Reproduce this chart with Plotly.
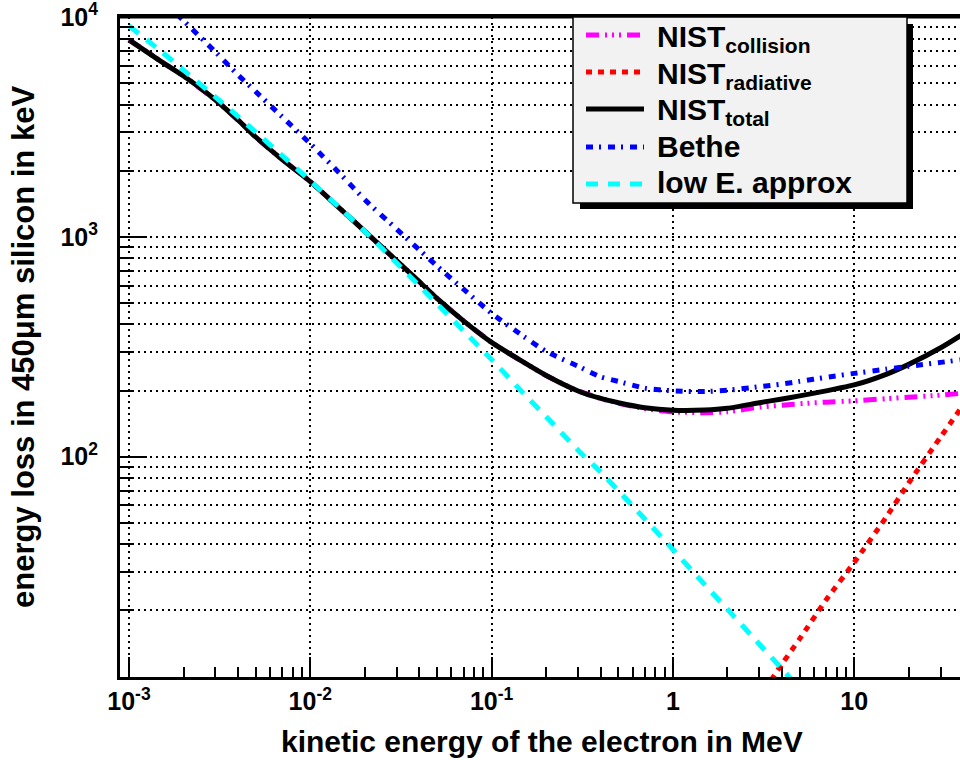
import plotly.graph_objects as go

# ---------------- data ----------------
energy_mev = [0.001, 0.0015, 0.002, 0.003, 0.004, 0.005, 0.007,
              0.01, 0.015, 0.02, 0.03, 0.04, 0.05, 0.07,
              0.1, 0.15, 0.2, 0.3, 0.4, 0.5, 0.7,
              1, 1.5, 2, 3, 4, 5, 7,
              10, 15, 20, 30, 40]
nist_total = [7890, 6300, 5400, 4200, 3400, 2850, 2250,
              1785, 1317, 1061, 778, 625, 525, 415,
              331, 269, 234, 199, 184, 176, 167,
              162.7, 163, 166, 176, 183, 189, 199.3,
              212, 237, 263, 313, 362]
nist_collision = [7890, 6300, 5400, 4200, 3400, 2850, 2250,
                  1785, 1317, 1061, 778, 625, 525, 415,
                  331, 269, 234, 199, 184, 175, 165.5,
                  160, 158.5, 160, 168, 171.5, 174, 177,
                  179.4, 183.5, 186.5, 190.5, 194.5]

energy_rad = [1, 1.5, 2, 3, 4, 5, 7, 10, 15, 20, 30, 40]
nist_radiative = [2.3, 3.6, 5.0, 8.0, 11.4, 14.8, 22.3, 33, 53, 76, 123, 172]

energy_bethe = [0.0015, 0.002, 0.003, 0.004, 0.005, 0.007,
                0.01, 0.015, 0.02, 0.03, 0.04, 0.05, 0.07,
                0.1, 0.15, 0.2, 0.3, 0.4, 0.5, 0.7,
                1, 1.5, 2, 3, 4, 5, 7,
                10, 15, 20, 30, 40]
bethe = [12140, 9640, 6945, 5453, 4586, 3520,
         2655, 1894, 1476, 1084, 872, 737, 578,
         449, 352.7, 301, 258, 230.7, 220, 205,
         199.3, 197.7, 200.5, 208, 214, 220, 229.6,
         239.3, 250, 257.6, 268.5, 276.7]

energy_lowe = [0.001, 0.0015, 0.002, 0.003, 0.004, 0.005, 0.007,
               0.01, 0.015, 0.02, 0.03, 0.04, 0.05, 0.07,
               0.1, 0.15, 0.2, 0.3, 0.4, 0.5, 0.7,
               1, 1.5, 2, 3, 4, 5]
low_e_approx = [9140, 7000, 5740, 4325, 3525, 3000, 2345,
                1800, 1322, 1059, 760, 598, 497, 374,
                277, 194, 152, 107, 85, 70, 52,
                37.8, 26.1, 20.2, 14.0, 10.8, 8.8]

x_tickvals = [0.001, 0.01, 0.1, 1, 10]
x_ticktext = ["10<sup>-3</sup>", "10<sup>-2</sup>", "10<sup>-1</sup>", "1", "10"]
y_tickvals = [100, 1000, 10000]
y_ticktext = ["10<sup>2</sup>", "10<sup>3</sup>", "10<sup>4</sup>"]
x_minor = [m * d for d in (0.001, 0.01, 0.1, 1) for m in range(2, 10)] + [20, 30, 40]
y_minor = [m * d for d in (10, 100, 1000) for m in range(2, 10)]

legend_labels = ["NIST<sub>collision</sub>", "NIST<sub>radiative</sub>", "NIST<sub>total</sub>",
                 "Bethe", "low E. approx"]

# ---------------- styles ----------------
FONT = "Liberation Sans, Arial, sans-serif"
styles = [
    dict(color="#ff00ff", dash="13px,6px,2px,5px,2px,5px,2px,6px", width=5),
    dict(color="#ff0000", dash="6px,6px", width=5),
    dict(color="#000000", dash="solid", width=5),
    dict(color="#0000ff", dash="7px,6px,2px,7px", width=5),
    dict(color="#00ffff", dash="12px,10px", width=5),
]

fig = go.Figure()
series = [(energy_mev, nist_collision), (energy_rad, nist_radiative), (energy_mev, nist_total),
          (energy_bethe, bethe), (energy_lowe, low_e_approx)]
for (xs, ys), st, name in zip(series, styles, legend_labels):
    fig.add_trace(go.Scatter(x=xs, y=ys, mode="lines", name=name, showlegend=False,
                             line=dict(color=st["color"], dash=st["dash"], width=st["width"],
                                       shape="spline", smoothing=0.6)))

# plot area in pixels: x 120..960, y 17..677
L, R, T, B = 120, 960, 17, 677
W, H = R - L, B - T


def px(x):
    return (x - L) / W


def py(y):
    return (B - y) / H


grid = dict(gridcolor="black", griddash="2px,4px", gridwidth=1.5)

fig.update_xaxes(type="log", range=[-3.0496, 1.5836], automargin=False,
                 tickmode="array", tickvals=x_tickvals, ticktext=x_ticktext,
                 ticks="inside", ticklen=20, tickwidth=2, tickcolor="black",
                 showgrid=True, **grid,
                 showline=True, linewidth=3, linecolor="black", mirror=True,
                 tickfont=dict(family=FONT, size=25, color="black", weight="bold"),
                 ticklabelstandoff=0, ticklabeloverflow="allow",
                 minor=dict(tickmode="array", tickvals=x_minor, ticks="inside", ticklen=10,
                            tickwidth=2, tickcolor="black", showgrid=False),
                 zeroline=False)
fig.update_yaxes(type="log", range=[0.997, 4.001], automargin=False,
                 tickmode="array", tickvals=y_tickvals, ticktext=y_ticktext,
                 ticks="inside", ticklen=27, tickwidth=2, tickcolor="black",
                 showgrid=True, **grid,
                 showline=True, linewidth=3, linecolor="black", mirror=True,
                 tickfont=dict(family=FONT, size=25, color="black", weight="bold"),
                 ticklabelstandoff=14, ticklabeloverflow="allow",
                 minor=dict(tickmode="array", tickvals=y_minor, ticks="inside", ticklen=14,
                            tickwidth=2, tickcolor="black", showgrid=True, **grid),
                 zeroline=False)

shapes = []
annotations = []
# top frame line
shapes.append(dict(type="line", xref="paper", yref="paper", x0=0, x1=1, y0=1, y1=1,
                   line=dict(color="black", width=3), layer="above"))
# legend shadow + box
shapes.append(dict(type="rect", xref="paper", yref="paper", x0=px(580), x1=px(913), y0=py(24), y1=py(209),
                   fillcolor="black", line=dict(width=0), layer="above"))
shapes.append(dict(type="rect", xref="paper", yref="paper", x0=px(573), x1=px(907), y0=py(17), y1=py(203),
                   fillcolor="#f2f2f2", line=dict(color="black", width=1.5), layer="above"))
row_y = [35, 72, 109, 147, 184]
for st, label, yy in zip(styles, legend_labels, row_y):
    shapes.append(dict(type="line", xref="paper", yref="paper", x0=px(586), x1=px(644), y0=py(yy), y1=py(yy),
                       line=dict(color=st["color"], dash=st["dash"], width=st["width"]), layer="above"))
    annotations.append(dict(xref="paper", yref="paper", x=px(655), y=py(yy + (3 if "sub" in label else -1)),
                            xanchor="left", yanchor="middle", text=label, showarrow=False,
                            font=dict(family=FONT, size=30, color="black", weight="bold")))

annotations.append(dict(xref="paper", yref="paper", x=px(542), y=py(741), xanchor="center", yanchor="middle",
                        text="kinetic energy of the electron in MeV", showarrow=False,
                        font=dict(family=FONT, size=30, color="black", weight="bold")))
annotations.append(dict(xref="paper", yref="paper", x=px(23), y=py(347), xanchor="center", yanchor="middle",
                        text="energy loss in 450\u03bcm silicon in keV", textangle=-90, showarrow=False,
                        font=dict(family=FONT, size=31, color="black", weight="bold")))

fig.update_layout(width=960, height=760, margin=dict(l=L, r=960 - R, t=T, b=760 - B, pad=0, autoexpand=False),
                  paper_bgcolor="white", plot_bgcolor="white", showlegend=False,
                  shapes=shapes, annotations=annotations)

fig.write_html("out.html", config={"displayModeBar": False},
               post_script="document.body.style.margin='0';document.body.style.overflow='hidden';")
